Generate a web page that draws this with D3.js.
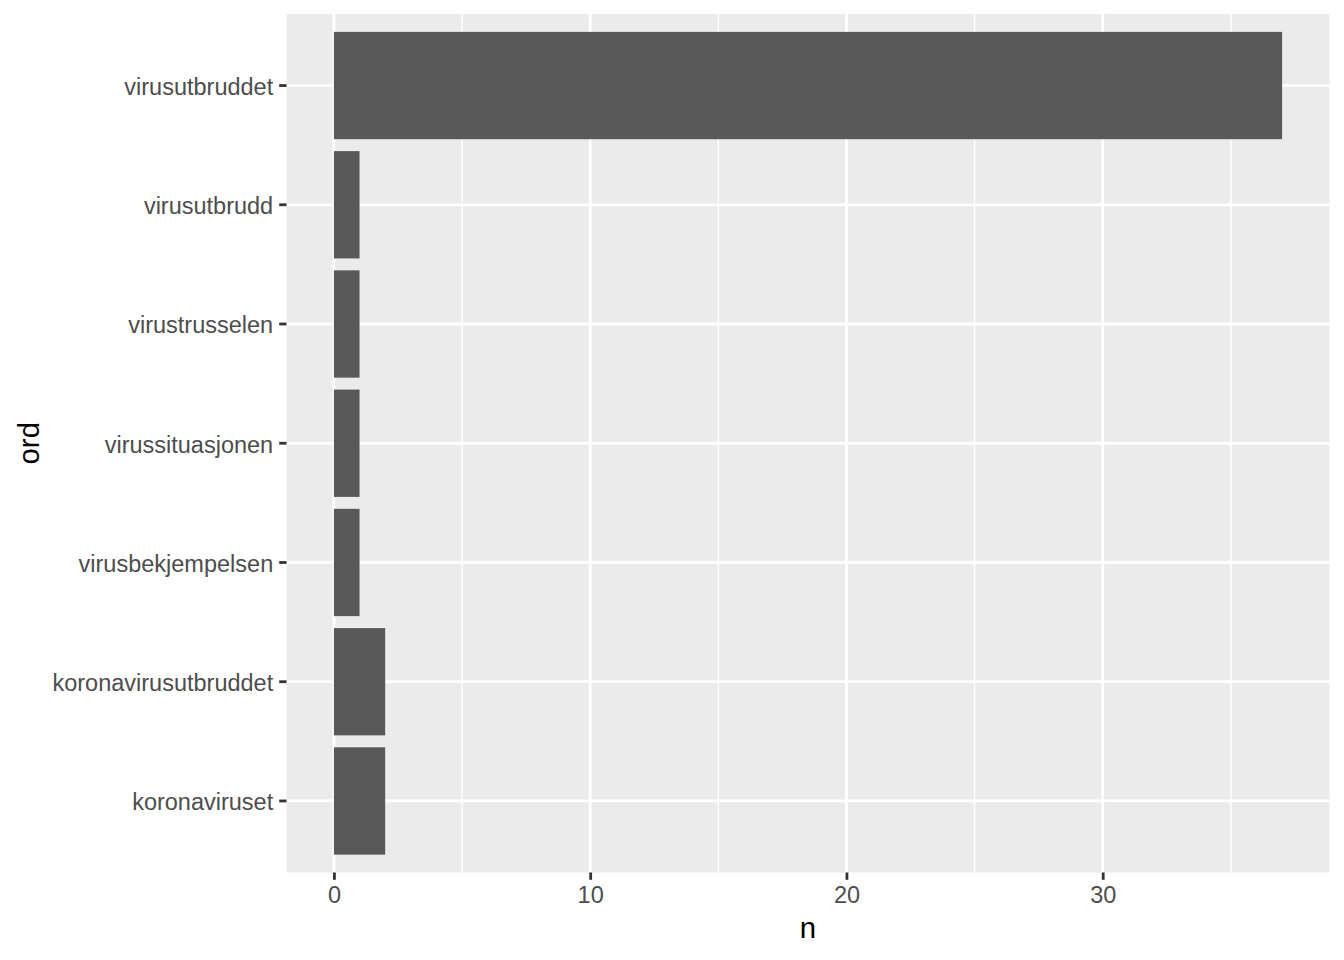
<!DOCTYPE html>
<html>
<head>
<meta charset="utf-8">
<script src="https://cdn.jsdelivr.net/npm/d3@7"></script>
<style>
  body { margin: 0; background: #fff; }
  text { font-family: "Liberation Sans", Arial, sans-serif; }
</style>
</head>
<body>
<script>
// Data, top to bottom as drawn
const words = ["virusutbruddet", "virusutbrudd", "virustrusselen", "virussituasjonen",
  "virusbekjempelsen", "koronavirusutbruddet", "koronaviruset"];
const counts = [37, 1, 1, 1, 1, 2, 2];
const xTicks = [0, 10, 20, 30];
const xMinor = [5, 15, 25, 35];

const width = 1344;
const height = 960;
const panel = { left: 286.5, top: 14, right: 1329.5, bottom: 872.5 };

const svg = d3.select("body")
  .append("svg")
  .attr("width", width)
  .attr("height", height);

// Scales (ggplot style expansion)
const maxN = d3.max(counts);
const xScale = d3.scaleLinear()
  .domain([-maxN * 0.05, maxN * 1.05])
  .range([panel.left, panel.right]);

const yScale = d3.scaleBand()
  .domain(words)
  .range([panel.top, panel.bottom])
  .paddingInner(0.1)
  .paddingOuter(0.15);

// Panel background
svg.append("rect")
  .attr("x", panel.left)
  .attr("y", panel.top)
  .attr("width", panel.right - panel.left)
  .attr("height", panel.bottom - panel.top)
  .attr("fill", "#ebebeb");

// Grid lines
svg.append("g")
  .selectAll("line")
  .data(xMinor)
  .join("line")
  .attr("x1", d => xScale(d))
  .attr("x2", d => xScale(d))
  .attr("y1", panel.top)
  .attr("y2", panel.bottom)
  .attr("stroke", "#fff")
  .attr("stroke-width", 1.4);

svg.append("g")
  .selectAll("line")
  .data(xTicks)
  .join("line")
  .attr("x1", d => xScale(d))
  .attr("x2", d => xScale(d))
  .attr("y1", panel.top)
  .attr("y2", panel.bottom)
  .attr("stroke", "#fff")
  .attr("stroke-width", 2.8);

svg.append("g")
  .selectAll("line")
  .data(words)
  .join("line")
  .attr("x1", panel.left)
  .attr("x2", panel.right)
  .attr("y1", d => yScale(d) + yScale.bandwidth() / 2)
  .attr("y2", d => yScale(d) + yScale.bandwidth() / 2)
  .attr("stroke", "#fff")
  .attr("stroke-width", 2.8);

// Bars
svg.append("g")
  .selectAll("rect")
  .data(words)
  .join("rect")
  .attr("x", xScale(0))
  .attr("y", d => yScale(d))
  .attr("width", (d, i) => xScale(counts[i]) - xScale(0))
  .attr("height", yScale.bandwidth())
  .attr("fill", "#595959");

// Axes
const xAxis = d3.axisBottom(xScale)
  .tickValues(xTicks)
  .tickSize(7.3)
  .tickPadding(7);

const yAxis = d3.axisLeft(yScale)
  .tickSize(7.3)
  .tickPadding(6);

const gx = svg.append("g")
  .attr("transform", `translate(0, ${panel.bottom})`)
  .call(xAxis);

const gy = svg.append("g")
  .attr("transform", `translate(${panel.left}, 0)`)
  .call(yAxis);

[gx, gy].forEach(g => {
  g.select(".domain").remove();
  g.selectAll(".tick line").attr("stroke", "#333").attr("stroke-width", 2.8);
  g.selectAll(".tick text")
    .attr("fill", "#4d4d4d")
    .style("font-size", "23.5px")
    .style("font-family", "'Liberation Sans', Arial, sans-serif");
});
gy.selectAll(".tick text").attr("dy", "0.4em");

// Axis titles
svg.append("text")
  .attr("x", (panel.left + panel.right) / 2)
  .attr("y", 938)
  .attr("text-anchor", "middle")
  .style("font-size", "29.3px")
  .attr("fill", "#000")
  .text("n");

svg.append("text")
  .attr("transform", `translate(39, ${(panel.top + panel.bottom) / 2}) rotate(-90)`)
  .attr("text-anchor", "middle")
  .style("font-size", "29.3px")
  .attr("fill", "#000")
  .text("ord");
</script>
</body>
</html>
